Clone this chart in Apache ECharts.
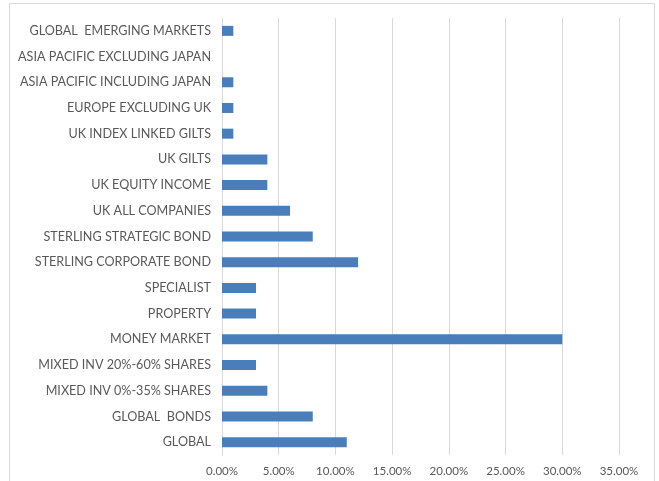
<!DOCTYPE html>
<html>
<head>
<meta charset="utf-8">
<script src="https://cdn.jsdelivr.net/npm/echarts@6/dist/echarts.min.js"></script>
<style>
  html, body { margin: 0; padding: 0; background: #fff; }
  #chart { width: 659px; height: 481px; }
</style>
</head>
<body>
<div id="chart"></div>
<script>
// categories, bottom to top
var categories = [
  "GLOBAL",
  "GLOBAL  BONDS",
  "MIXED INV 0%-35% SHARES",
  "MIXED INV 20%-60% SHARES",
  "MONEY MARKET",
  "PROPERTY",
  "SPECIALIST",
  "STERLING CORPORATE BOND",
  "STERLING STRATEGIC BOND",
  "UK ALL COMPANIES",
  "UK EQUITY INCOME",
  "UK GILTS",
  "UK INDEX LINKED GILTS",
  "EUROPE EXCLUDING UK",
  "ASIA PACIFIC INCLUDING JAPAN",
  "ASIA PACIFIC EXCLUDING JAPAN",
  "GLOBAL  EMERGING MARKETS"
];
// share in percent
var shares = [11, 8, 4, 3, 30, 3, 3, 12, 8, 6, 4, 4, 1, 1, 1, 0, 1];
var xTicks = { min: 0, max: 35, step: 5 };

var chart = echarts.init(document.getElementById("chart"));
chart.setOption({
  animation: false,
  textStyle: { fontFamily: "Lato" },
  grid: { left: 222, right: 40, top: 18, bottom: 26, containLabel: false },
  graphic: [{
    type: "rect",
    shape: { x: 9.5, y: 3.5, width: 645, height: 500 },
    style: { fill: "none", stroke: "#d9d9d9", lineWidth: 1 },
    silent: true
  }],
  xAxis: {
    type: "value",
    min: xTicks.min,
    max: xTicks.max,
    interval: xTicks.step,
    axisLine: { show: false },
    axisTick: { show: false },
    splitLine: { lineStyle: { color: "#d9d9d9" } },
    axisLabel: {
      color: "#595959",
      fontSize: 11.5,
      margin: 10,
      formatter: function (v) { return v.toFixed(2) + "%"; }
    }
  },
  yAxis: {
    type: "category",
    data: categories,
    axisLine: { show: true, lineStyle: { color: "#d9d9d9" } },
    axisTick: { show: false },
    axisLabel: { color: "#595959", fontSize: 12.6, margin: 11 }
  },
  series: [{
    type: "bar",
    data: shares,
    barWidth: 10,
    itemStyle: { color: "#4a7ebb" }
  }]
});
</script>
</body>
</html>
